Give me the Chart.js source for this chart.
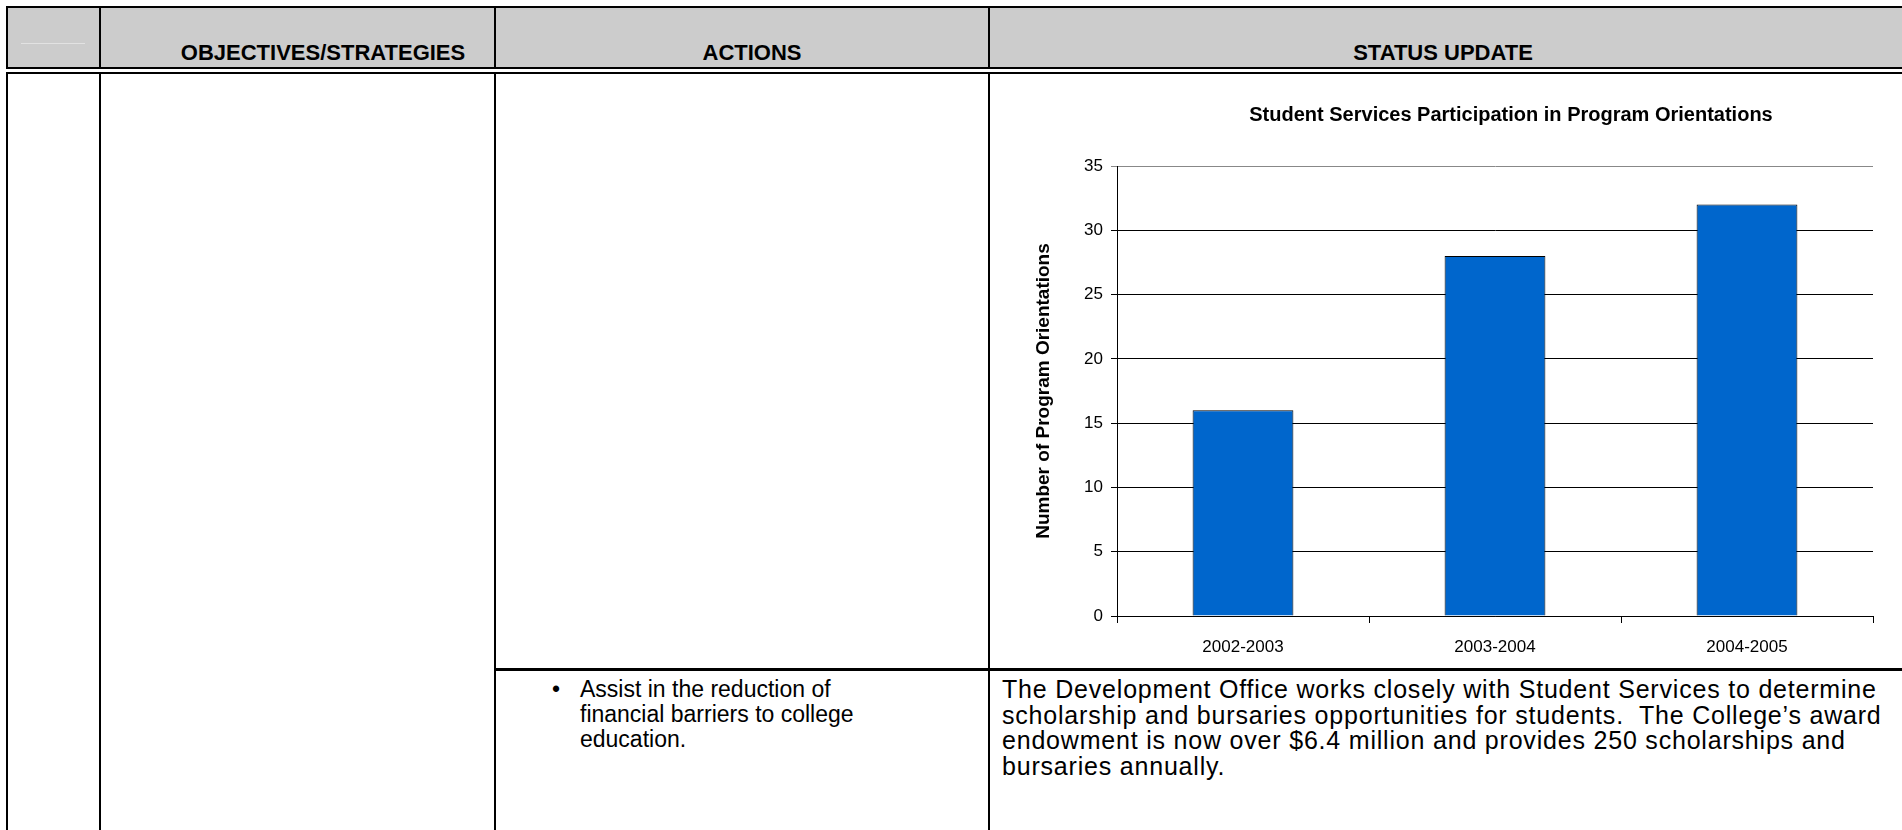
<!DOCTYPE html>
<html>
<head>
<meta charset="utf-8">
<script src="https://cdn.jsdelivr.net/npm/chart.js@4"></script>
<style>
  html, body { margin: 0; padding: 0; background: #fff; }
  body { width: 1902px; height: 830px; position: relative; overflow: hidden;
         font-family: 'Liberation Sans', Arial, sans-serif; color: #000; }
  .ln { position: absolute; background: #000; }
  .hd { position: absolute; top: 7px; height: 60px; line-height: 92px; text-align: center;
        font-weight: bold; font-size: 22px; white-space: nowrap; }
  .txt { position: absolute; white-space: nowrap; }
  #chartBox { position: absolute; left: 990px; top: 74px; width: 1042px; height: 595px; }
</style>
</head>
<body>
  <!-- header band -->
  <div style="position:absolute;left:6px;top:7px;width:1896px;height:61px;background:#cccccc"></div>
  <div style="position:absolute;left:21px;top:43px;width:64px;height:1px;background:#e2e2e2"></div>

  <!-- table rules -->
  <div class="ln" style="left:6px;top:6px;width:1896px;height:2px"></div>
  <div class="ln" style="left:6px;top:6px;width:2px;height:824px"></div>
  <div class="ln" style="left:99px;top:6px;width:2px;height:824px"></div>
  <div class="ln" style="left:494px;top:6px;width:2px;height:824px"></div>
  <div class="ln" style="left:988px;top:6px;width:2px;height:824px"></div>
  <div style="position:absolute;left:6px;top:69px;width:1896px;height:3px;background:#fff"></div>
  <div class="ln" style="left:6px;top:67px;width:1896px;height:2px"></div>
  <div class="ln" style="left:6px;top:72px;width:1896px;height:2px"></div>
  <div class="ln" style="left:494px;top:668px;width:1408px;height:3px"></div>

  <div class="hd" style="left:123px;width:400px">OBJECTIVES/STRATEGIES</div>
  <div class="hd" style="left:552px;width:400px">ACTIONS</div>
  <div class="hd" style="left:1243px;width:400px">STATUS UPDATE</div>

  <div class="txt" style="left:552px;top:677px;font-size:23px;line-height:25px">&bull;</div>
  <div class="txt" style="left:580px;top:677px;font-size:23px;line-height:25px">Assist in the reduction of<br>financial barriers to college<br>education.</div>
  <div class="txt" style="left:1002px;top:677px;font-size:25px;line-height:25.5px;letter-spacing:0.8px">The Development Office works closely with Student Services to determine<br>scholarship and bursaries opportunities for students.&nbsp; The College&rsquo;s award<br>endowment is now over $6.4 million and provides 250 scholarships and<br>bursaries annually.</div>

  <div id="chartBox"><canvas id="orientChart"></canvas></div>

<script>
// chart data
const years = ['2002-2003', '2003-2004', '2004-2005'];
const orientations = [16, 28, 32];
const yTicks = [0, 5, 10, 15, 20, 25, 30, 35];

Chart.defaults.font.family = "'Liberation Sans', Arial, sans-serif";
Chart.defaults.color = '#000';

const ctx = document.getElementById('orientChart');
new Chart(ctx, {
    type: 'bar',
    data: {
        labels: years,
        datasets: [{
            label: 'Program Orientations',
            data: orientations,
            backgroundColor: '#0066CC',
            borderColor: '#000',
            borderWidth: 1,
            barPercentage: 0.4,
            categoryPercentage: 1.0
        }]
    },
    options: {
        responsive: true,
        maintainAspectRatio: false,
        animation: false,
        layout: { padding: 0 },
        plugins: {
            legend: { display: false },
            tooltip: { enabled: false },
            title: {
                display: true,
                text: 'Student Services Participation in Program Orientations',
                color: '#000',
                font: { size: 20, weight: 'bold' },
                padding: { top: 29, bottom: 39 }
            }
        },
        scales: {
            x: {
                grid: {
                    display: true,
                    drawOnChartArea: false,
                    drawTicks: true,
                    tickLength: 7,
                    color: '#000'
                },
                border: { color: '#000', width: 1 },
                ticks: { font: { size: 17 }, padding: 14, color: '#000' },
                afterFit: (scale) => { scale.height = 53; }
            },
            y: {
                min: 0,
                max: 35,
                afterBuildTicks: (scale) => { scale.ticks = yTicks.map(v => ({ value: v })); },
                grid: {
                    color: (c) => (c.tick && c.tick.value === 35 ? '#888' : '#000'),
                    tickLength: 6
                },
                border: { color: '#000', width: 1 },
                ticks: { font: { size: 17 }, padding: 8, color: '#000' },
                title: {
                    display: true,
                    text: 'Number of Program Orientations',
                    color: '#000',
                    font: { size: 19, weight: 'bold' },
                    padding: { top: 42, bottom: 0 }
                },
                afterFit: (scale) => { scale.width = 127; }
            },
            // empty right-hand spacer so the plot ends where the reference does
            // while the title stays centred over the wider area
            spacer: {
                type: 'linear',
                position: 'right',
                grid: { display: false },
                border: { display: false },
                ticks: { display: false },
                afterFit: (scale) => { scale.width = 159; }
            }
        }
    }
});
</script>
</body>
</html>
